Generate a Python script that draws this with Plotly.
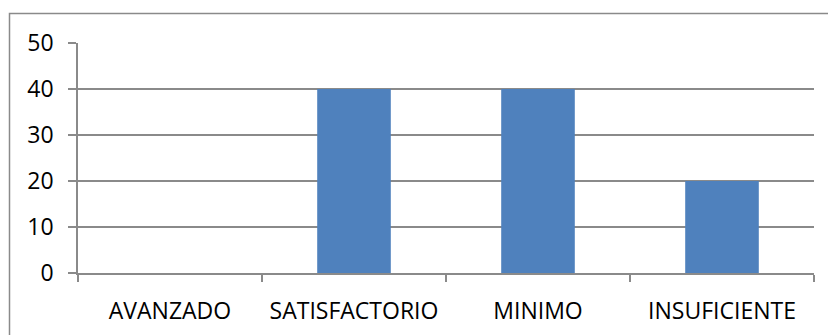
import plotly.graph_objects as go

categories = ["AVANZADO", "SATISFACTORIO", "MINIMO", "INSUFICIENTE"]
values = [0, 40, 40, 20]
y_ticks = [0, 10, 20, 30, 40, 50]

W, H = 828, 335
L, R, T, B = 78, 14, 43, 62
grid = "#8a8a8a"
font = dict(family="Open Sans", size=23, color="#000000")

fig = go.Figure(go.Bar(x=categories, y=values, width=0.4,
                       marker=dict(color="#4F81BD", line=dict(width=0))))

pw = W - L - R
ph = H - T - B
# outer chart border (pixel -> paper coords)
bx0 = (9.5 - L) / pw
by1 = 1 + (T - 13.5) / ph
fig.add_shape(type="rect", xref="paper", yref="paper",
              x0=bx0, x1=(W + 10 - L) / pw, y0=-(B + 10) / ph, y1=by1,
              line=dict(color=grid, width=1.5), fillcolor="rgba(0,0,0,0)", layer="below")

fig.update_layout(
    width=W, height=H, margin=dict(l=L, r=R, t=T, b=B, autoexpand=False),
    paper_bgcolor="white", plot_bgcolor="white", showlegend=False,
    font=font,
    xaxis=dict(type="category", range=[-0.5, 3.5], tickson="boundaries",
               ticks="outside", ticklen=7, tickcolor=grid, tickwidth=1.5,
               showline=True, linecolor=grid, linewidth=1.5, showgrid=False,
               tickfont=font, ticklabelstandoff=17),
    yaxis=dict(range=[0, 50], tickvals=y_ticks, ticks="outside", ticklen=8,
               tickcolor=grid, tickwidth=1.5, showline=True, linecolor=grid,
               linewidth=1.5, showgrid=True, gridcolor=grid, gridwidth=1.5,
               zeroline=False, tickfont=font, ticklabelstandoff=10),
)

fig.write_html("out.html")
